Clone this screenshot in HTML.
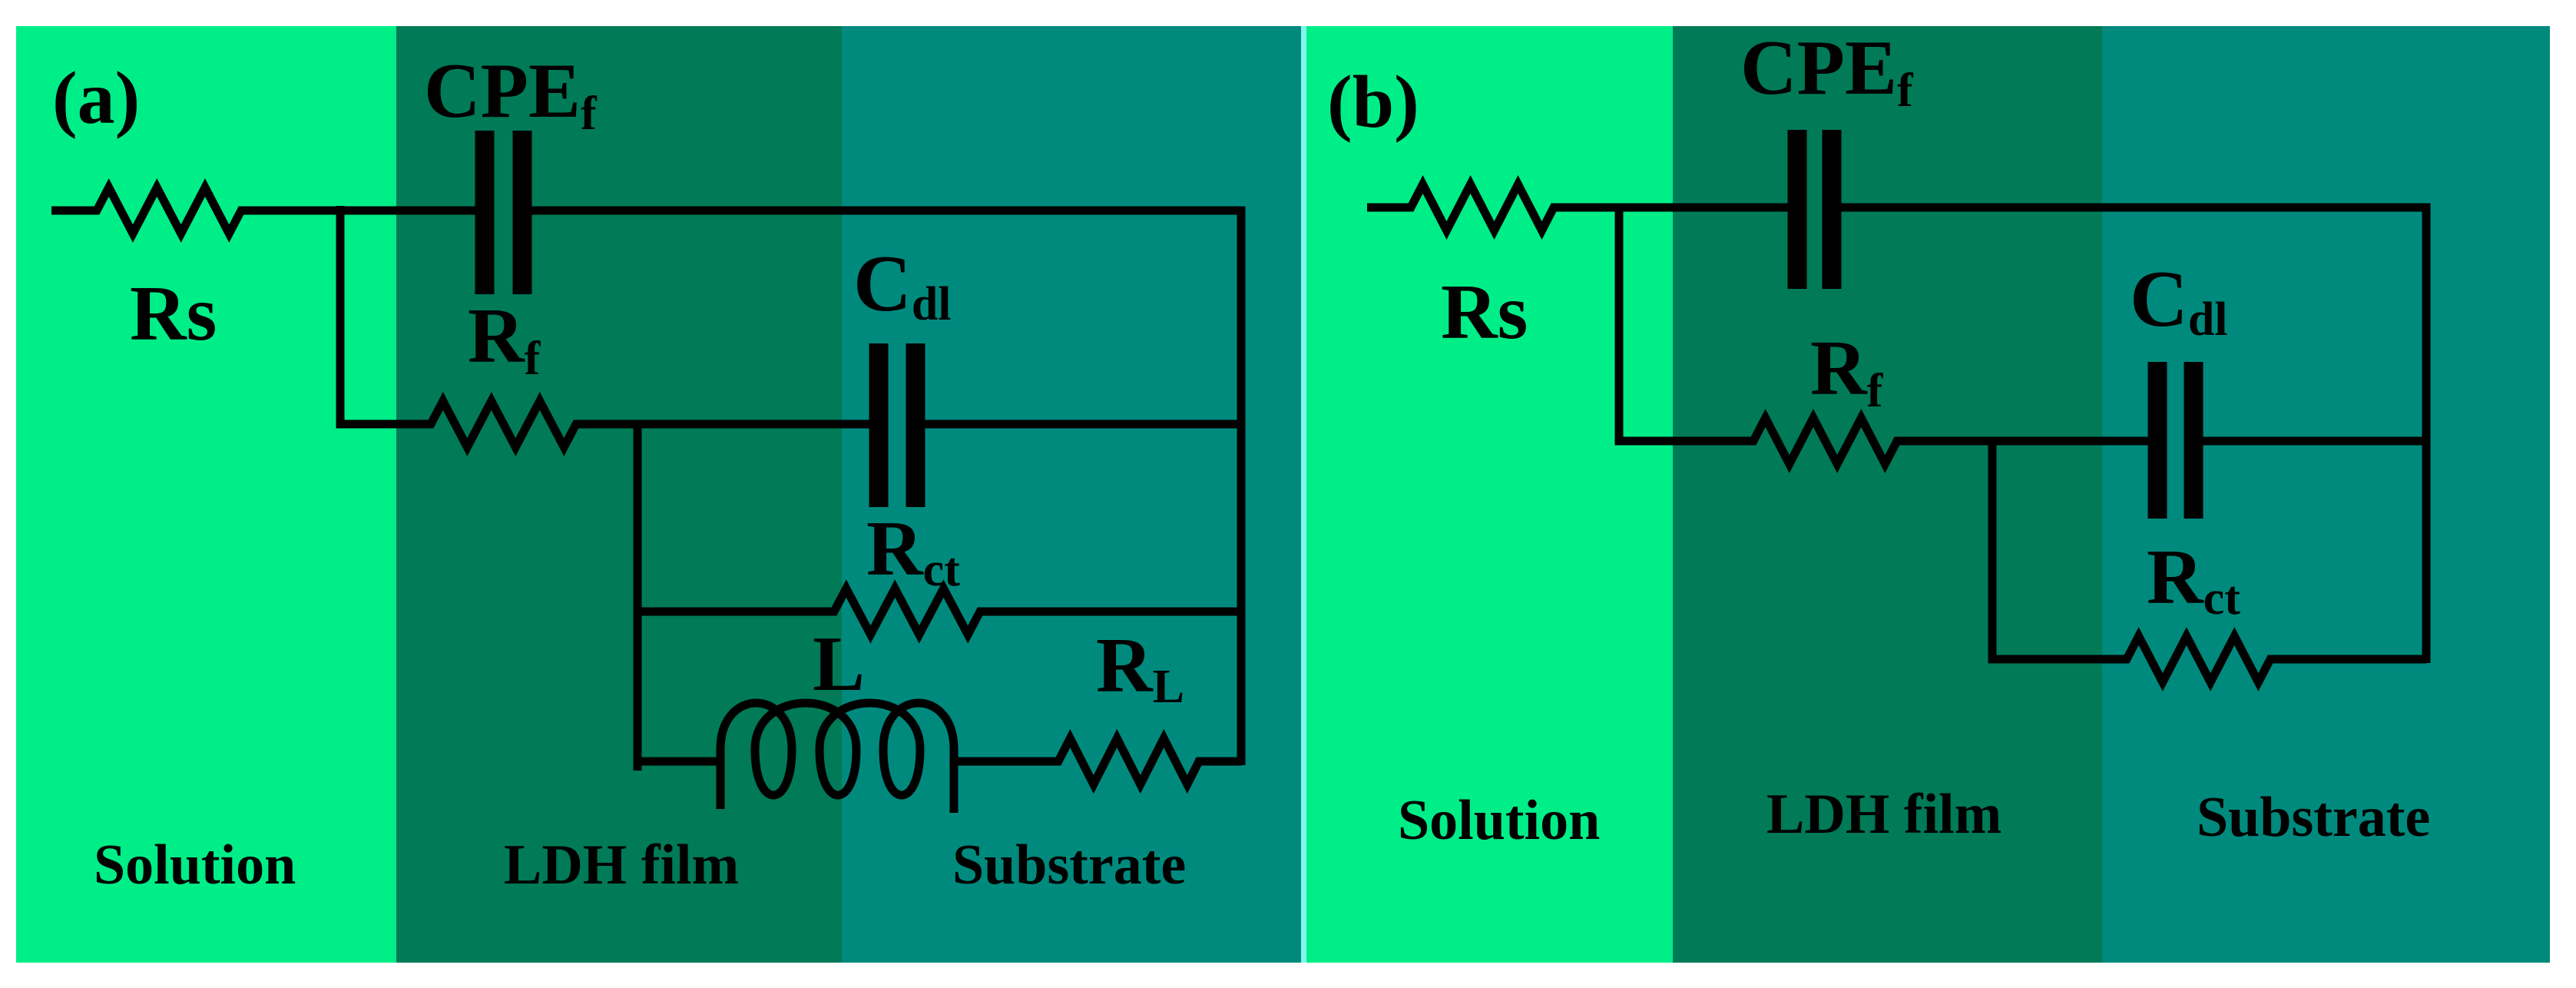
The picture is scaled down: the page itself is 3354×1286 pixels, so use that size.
<!DOCTYPE html>
<html><head><meta charset="utf-8"><style>
html,body{margin:0;padding:0;background:#fff;}
svg{display:block;}
text{font-family:"Liberation Serif",serif;font-weight:bold;fill:#000;}
</style></head><body>
<svg width="3354" height="1286" viewBox="0 0 3354 1286" xmlns="http://www.w3.org/2000/svg">
<rect x="0" y="0" width="3354" height="1286" fill="#fff"/>
<rect x="21" y="34" width="495" height="1219" fill="#00ee88"/>
<rect x="516" y="34" width="580" height="1219" fill="#007a57"/>
<rect x="1096" y="34" width="598" height="1219" fill="#008a7e"/>
<rect x="1694" y="34" width="7" height="1219" fill="#7ff8ee"/>
<rect x="1701" y="34" width="477" height="1219" fill="#00ee88"/>
<rect x="2178" y="34" width="559" height="1219" fill="#007a57"/>
<rect x="2737" y="34" width="583" height="1219" fill="#008a7e"/>

<g stroke="#000" stroke-width="11" fill="none" stroke-linejoin="miter" stroke-linecap="butt">
<!-- panel a -->
<polyline points="67,274 126,274 141.7,244 173,304 204.3,244 235.7,304 267,244 298.3,304 314,274 631,274"/>
<polyline points="680,274 1616,274 1616,996"/>
<line x1="631" y1="170" x2="631" y2="383" stroke-width="25"/>
<line x1="680" y1="170" x2="680" y2="383" stroke-width="25"/>
<polyline points="443,268 443,552 561,552 576.8,522 608.3,582 639.8,522 671.3,582 702.8,522 734.3,582 750,552 1144,552"/>
<line x1="1192" y1="552" x2="1616" y2="552"/>
<line x1="1144" y1="447" x2="1144" y2="660" stroke-width="25"/>
<line x1="1192" y1="447" x2="1192" y2="660" stroke-width="25"/>
<line x1="830" y1="552" x2="830" y2="1003"/>
<polyline points="830,796 1086,796 1101.8,766 1133.5,826 1165.2,766 1196.8,826 1228.5,766 1260.2,826 1276,796 1616,796"/>
<line x1="830" y1="991" x2="938" y2="991"/>
<path d="M938,1053 L938,975 C938,895 1031,895 1031,975 C1031,1055 983,1055 983,975 C983,895 1115,895 1115,975 C1115,1055 1067,1055 1067,975 C1067,895 1198,895 1198,975 C1198,1055 1150,1055 1150,975 C1150,895 1242,895 1242,975 L1242,1058"/>
<polyline points="1242,991 1378,991 1393.3,961 1423.8,1021 1454.3,961 1484.8,1021 1515.3,961 1545.8,1021 1561,991 1616,991"/>

<!-- panel b -->
<polyline points="1780,270 1837,270 1852.5,240 1883.5,300 1914.5,240 1945.5,300 1976.5,240 2007.5,300 2023,270 2340,270"/>
<polyline points="2385,270 3159,270 3159,863"/>
<line x1="2340" y1="169" x2="2340" y2="376" stroke-width="25"/>
<line x1="2385" y1="169" x2="2385" y2="376" stroke-width="25"/>
<polyline points="2108,265 2108,574 2283,574 2298.6,544 2329.8,604 2360.9,544 2392.1,604 2423.3,544 2454.4,604 2470,574 2809,574"/>
<line x1="2856" y1="574" x2="3159" y2="574"/>
<line x1="2809" y1="471" x2="2809" y2="675" stroke-width="25"/>
<line x1="2856" y1="471" x2="2856" y2="675" stroke-width="25"/>
<polyline points="2594,574 2594,858 2769,858 2784.6,828 2815.8,888 2846.9,828 2878.1,888 2909.3,828 2940.4,888 2956,858 3159,858"/>
</g>

<!-- labels panel a -->
<text x="68" y="160" font-size="98">(a)</text>
<text x="552" y="152" font-size="102">CPE<tspan font-size="62" dy="16">f</tspan></text>
<text x="169" y="442" font-size="102">Rs</text>
<text x="609" y="471" font-size="102">R<tspan font-size="62" dy="16">f</tspan></text>
<text x="1111" y="404" font-size="105">C<tspan font-size="62" dy="12">dl</tspan></text>
<text x="1128" y="748" font-size="102">R<tspan font-size="62" dy="14">ct</tspan></text>
<text x="1058" y="898" font-size="102">L</text>
<text x="1427" y="900" font-size="102">R<tspan font-size="62" dy="14">L</tspan></text>
<text x="122" y="1150" font-size="74">Solution</text>
<text x="656" y="1150" font-size="74">LDH film</text>
<text x="1240" y="1150" font-size="74">Substrate</text>

<!-- labels panel b -->
<text x="1728" y="165" font-size="98">(b)</text>
<text x="2266" y="122" font-size="102">CPE<tspan font-size="62" dy="16">f</tspan></text>
<text x="1876" y="440" font-size="102">Rs</text>
<text x="2357" y="513" font-size="102">R<tspan font-size="62" dy="16">f</tspan></text>
<text x="2773" y="424" font-size="105">C<tspan font-size="62" dy="12">dl</tspan></text>
<text x="2795" y="785" font-size="102">R<tspan font-size="62" dy="14">ct</tspan></text>
<text x="1820" y="1092" font-size="74">Solution</text>
<text x="2300" y="1084" font-size="74">LDH film</text>
<text x="2860" y="1088" font-size="74">Substrate</text>
</svg>
</body></html>
